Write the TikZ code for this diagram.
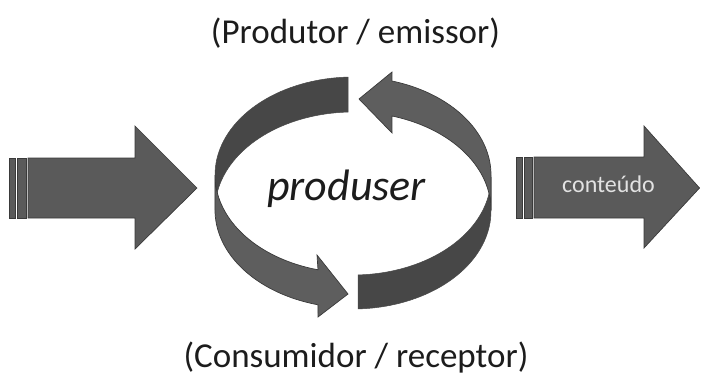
\documentclass[tikz,border=0pt]{standalone}
\usepackage{fontspec}
\setmainfont{Carlito}
\definecolor{darkband}{HTML}{474747}
\definecolor{lightband}{HTML}{5E5E5E}
\definecolor{arrowfill}{HTML}{5A5A5A}
\definecolor{edgegray}{HTML}{3A3A3A}
\definecolor{textgray}{HTML}{1C1C1C}
\definecolor{labelgray}{HTML}{E2E2E2}
\begin{document}
\begin{tikzpicture}[x=1pt,y=-1pt,
  bigarrow/.style={fill=arrowfill,draw=edgegray,line width=0.7pt,line join=miter},
  darkpiece/.style={fill=darkband,draw=darkband,line width=0.5pt},
  lightpiece/.style={fill=lightband,draw=edgegray,line width=0.7pt,line join=miter},
  caption/.style={anchor=base,text=textgray,font=\fontsize{35}{41}\selectfont,inner sep=0pt},
  center/.style={anchor=base,text=textgray,font=\fontsize{44}{50}\selectfont\itshape,inner sep=0pt},
  inlabel/.style={anchor=base,text=labelgray,font=\fontsize{24}{28}\selectfont,inner sep=0pt}]
\useasboundingbox (0,0) rectangle (701,383);

% left big arrow
\path[bigarrow] (28,158) -- (135,158) -- (135,126) -- (197,188) -- (135,249) -- (135,218) -- (28,218) -- cycle;
\path[bigarrow] (9.5,158) rectangle (15.5,218);
\path[bigarrow] (17.5,158) rectangle (26.5,218);

% right big arrow
\path[bigarrow] (534,157) -- (644,157) -- (644,126) -- (699.5,188) -- (644,248) -- (644,218) -- (534,218) -- cycle;
\path[bigarrow] (516,157) rectangle (522,218);
\path[bigarrow] (524,157) rectangle (532,218);

% ring: dark pieces
\path[darkpiece] plot[domain=268:180,samples=40] ({353+138*cos(\x)},{175+98*sin(\x)})
  -- plot[domain=180:268,samples=40] ({353+138*cos(\x)},{210+98*sin(\x)}) -- cycle;
\path[darkpiece] plot[domain=0:87.9,samples=40] ({353+138*cos(\x)},{177+98*sin(\x)})
  -- plot[domain=87.9:0,samples=40] ({353+138*cos(\x)},{211+98*sin(\x)}) -- cycle;

% ring: light pieces with arrowheads
\path[lightpiece] plot[domain=180:104.7,samples=40] ({353+138*cos(\x)},{175+98*sin(\x)})
  -- (317,255) -- (348,294) -- (318,317)
  -- plot[domain=104.7:180,samples=40] ({353+138*cos(\x)},{210+98*sin(\x)}) -- cycle;
\path[lightpiece] plot[domain=286.4:360,samples=40] ({353+138*cos(\x)},{175+98*sin(\x)})
  -- plot[domain=360:286.4,samples=40] ({353+138*cos(\x)},{210+98*sin(\x)})
  -- (392,133) -- (359,99) -- (392,72) -- cycle;

% texts
\node[caption] (prod) at (355.5,43.5) {(Produtor / emissor)};
\node[caption] (cons) at (356,367.5) {(Consumidor / receptor)};
\node[center] (produser) at (346.5,200) {produser};
\node[inlabel] (cont) at (608.5,192) {conteúdo};
\end{tikzpicture}
\end{document}
